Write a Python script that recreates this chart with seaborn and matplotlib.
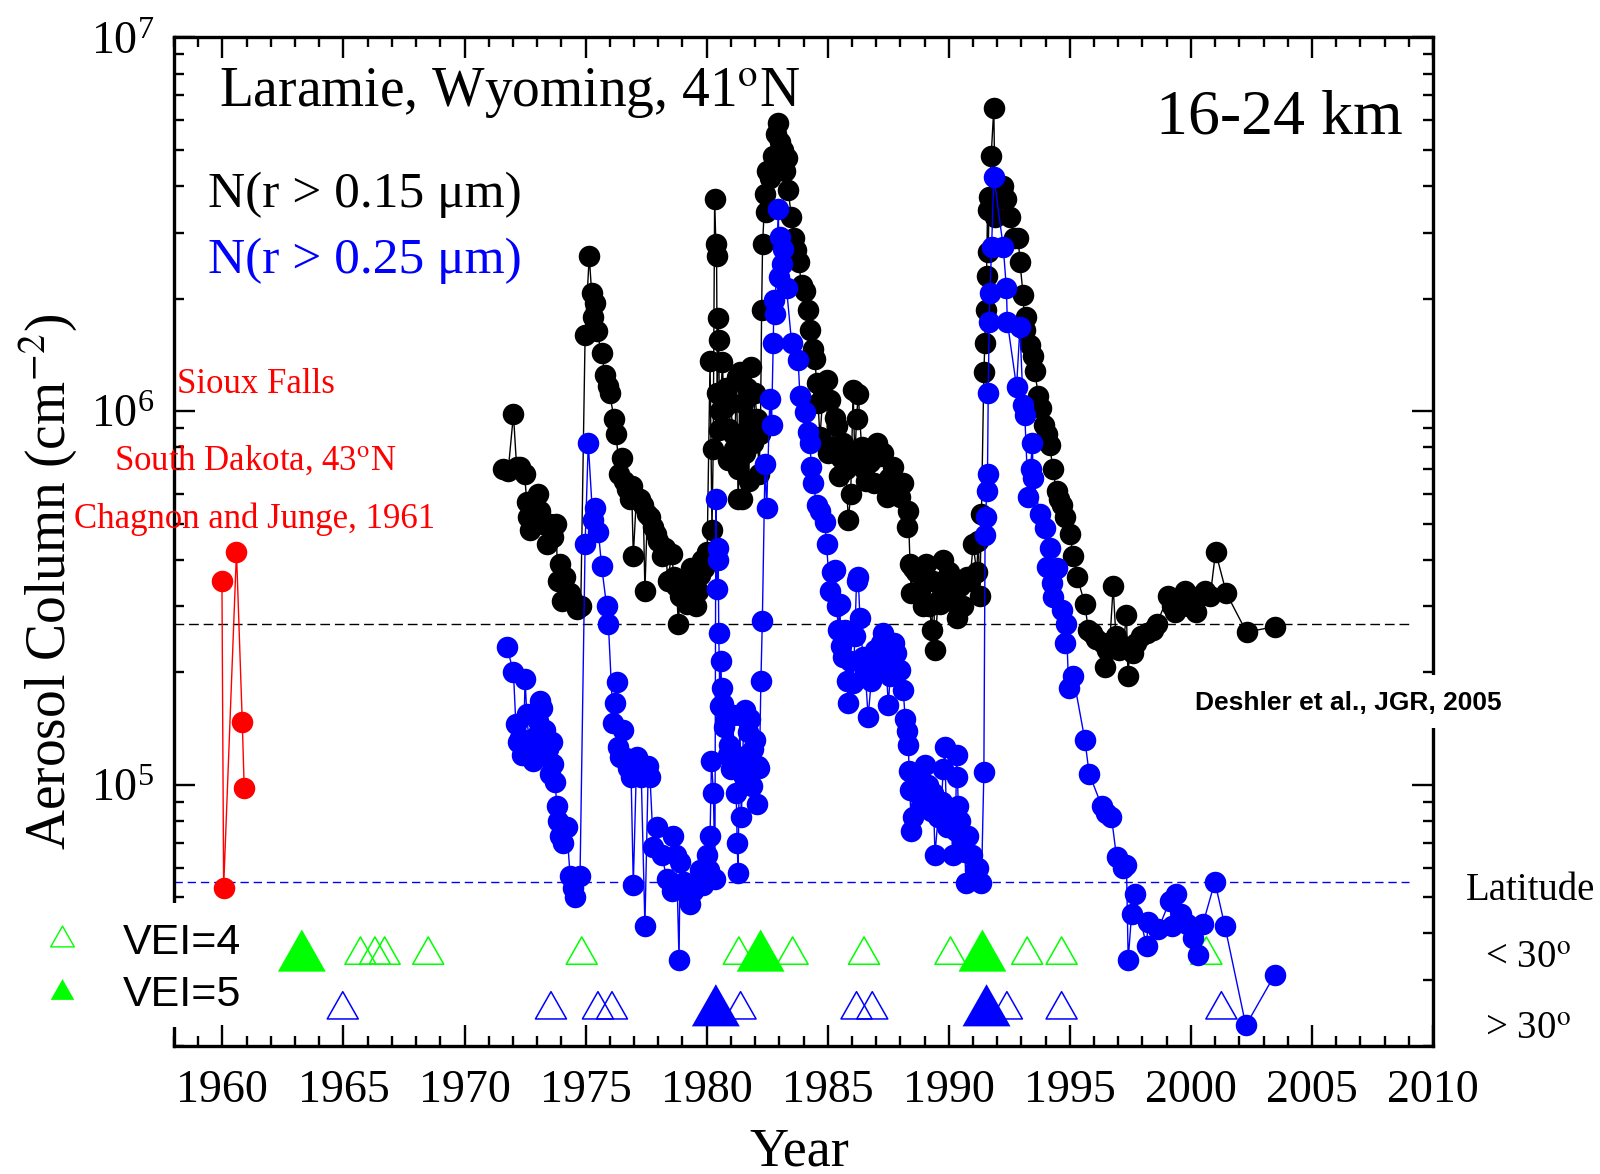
import matplotlib
matplotlib.use("Agg")
import numpy as np
import matplotlib.pyplot as plt
from matplotlib.path import Path
from matplotlib.markers import MarkerStyle
from matplotlib.patches import Rectangle
from matplotlib.lines import Line2D
from matplotlib.ticker import LogLocator, NullFormatter, MultipleLocator
import seaborn as sns

# ---------------------------------------------------------------- data
# Laramie, N(r > 0.15 um), column 16-24 km
black_year = [
    1971.60, 1971.80, 1972.02, 1972.15, 1972.30, 1972.48, 1972.57, 1972.64, 1972.70, 1972.85,
    1973.05, 1973.12, 1973.25, 1973.39, 1973.55, 1973.65, 1973.78, 1973.85, 1973.94, 1974.02,
    1974.15, 1974.36, 1974.50, 1974.63, 1974.80, 1974.98, 1975.15, 1975.25, 1975.32, 1975.39,
    1975.46, 1975.66, 1975.80, 1975.92, 1975.99, 1976.18, 1976.26, 1976.40, 1976.49, 1976.60,
    1976.72, 1976.83, 1976.90, 1976.97, 1977.10, 1977.25, 1977.38, 1977.45, 1977.55, 1977.66,
    1977.80, 1977.90, 1978.00, 1978.15, 1978.30, 1978.40, 1978.55, 1978.65, 1978.75, 1978.83,
    1978.90, 1979.05, 1979.20, 1979.35, 1979.45, 1979.55, 1979.65, 1979.72, 1979.80, 1979.90,
    1980.02, 1980.14, 1980.22, 1980.27, 1980.33, 1980.38, 1980.41, 1980.44, 1980.47, 1980.50,
    1980.53, 1980.56, 1980.65, 1980.72, 1980.81, 1980.89, 1980.94, 1980.98, 1981.10, 1981.15,
    1981.24, 1981.28, 1981.31, 1981.37, 1981.44, 1981.49, 1981.53, 1981.58, 1981.66, 1981.74,
    1981.79, 1981.83, 1981.91, 1981.99, 1982.08, 1982.16, 1982.22, 1982.27, 1982.31, 1982.41,
    1982.46, 1982.50, 1982.62, 1982.75, 1982.88, 1982.96, 1983.03, 1983.10, 1983.17, 1983.23,
    1983.30, 1983.37, 1983.50, 1983.62, 1983.71, 1983.80, 1983.92, 1984.05, 1984.20, 1984.26,
    1984.40, 1984.47, 1984.54, 1984.60, 1984.68, 1984.80, 1984.95, 1985.00, 1985.09, 1985.20,
    1985.30, 1985.37, 1985.45, 1985.55, 1985.64, 1985.75, 1985.85, 1985.95, 1986.05, 1986.12,
    1986.19, 1986.26, 1986.40, 1986.50, 1986.60, 1986.75, 1986.90, 1987.02, 1987.15, 1987.29,
    1987.43, 1987.55, 1987.71, 1987.85, 1988.00, 1988.12, 1988.26, 1988.33, 1988.40, 1988.45,
    1988.53, 1988.65, 1988.80, 1988.92, 1989.00, 1989.08, 1989.20, 1989.30, 1989.36, 1989.43,
    1989.55, 1989.63, 1989.77, 1989.90, 1990.00, 1990.15, 1990.25, 1990.32, 1990.45, 1990.60,
    1990.75, 1990.87, 1991.01, 1991.15, 1991.22, 1991.28, 1991.35, 1991.45, 1991.49, 1991.52,
    1991.56, 1991.60, 1991.63, 1991.67, 1991.75, 1991.86, 1991.92, 1992.05, 1992.18, 1992.25,
    1992.35, 1992.52, 1992.70, 1992.87, 1992.94, 1993.07, 1993.14, 1993.21, 1993.35, 1993.49,
    1993.55, 1993.70, 1993.83, 1993.95, 1994.04, 1994.17, 1994.30, 1994.45, 1994.55, 1994.66,
    1994.80, 1995.00, 1995.14, 1995.30, 1995.62, 1995.76, 1995.90, 1996.10, 1996.38, 1996.45,
    1996.55, 1996.65, 1996.79, 1996.90, 1997.05, 1997.20, 1997.34, 1997.40, 1997.48, 1997.60,
    1997.75, 1997.95, 1998.20, 1998.44, 1998.60, 1999.06, 1999.20, 1999.35, 1999.50, 1999.75,
    1999.90, 2000.10, 2000.23, 2000.37, 2000.57, 2000.80, 2001.02, 2001.47, 2002.30, 2003.46,
]
black_n = [
    7.0e5, 6.9e5, 9.8e5, 7.1e5, 7.1e5, 6.8e5, 5.7e5, 5.2e5, 4.8e5, 5.2e5,
    6.0e5, 5.4e5, 5.0e5, 4.4e5, 5.0e5, 4.6e5, 5.0e5, 3.5e5, 3.9e5, 3.1e5,
    3.6e5, 3.25e5, 3.1e5, 2.95e5, 3.0e5, 1.6e6, 2.6e6, 2.07e6, 1.79e6, 1.94e6,
    1.64e6, 1.43e6, 1.25e6, 1.17e6, 1.12e6, 9.5e5, 8.7e5, 6.8e5, 7.5e5, 6.5e5,
    6.2e5, 5.8e5, 6.3e5, 4.1e5, 5.9e5, 5.8e5, 5.6e5, 3.3e5, 5.3e5, 5.2e5,
    4.9e5, 4.7e5, 4.5e5, 4.1e5, 4.3e5, 3.5e5, 4.15e5, 3.6e5, 3.4e5, 2.7e5,
    3.2e5, 3.5e5, 3.05e5, 3.8e5, 3.4e5, 3.0e5, 3.3e5, 3.65e5, 4.0e5, 3.8e5,
    4.2e5, 1.36e6, 4.8e5, 7.9e5, 3.7e6, 2.8e6, 2.6e6, 1.12e6, 1.77e6, 1.55e6,
    8.9e5, 1.0e6, 1.35e6, 1.02e6, 1.15e6, 7.4e5, 8.95e5, 1.05e6, 8.7e5, 7.9e5,
    1.23e6, 7.0e5, 5.8e5, 1.27e6, 5.8e5, 1.05e6, 8.7e5, 7.7e5, 1.15e6, 6.5e5,
    9.5e5, 1.31e6, 8.2e5, 1.12e6, 9.5e5, 6.8e5, 8.7e5, 1.86e6, 2.8e6, 3.8e6,
    3.4e6, 4.4e6, 4.2e6, 4.8e6, 5.5e6, 5.9e6, 5.25e6, 4.6e6, 5.0e6, 4.4e6,
    4.75e6, 3.9e6, 3.3e6, 2.9e6, 2.7e6, 2.5e6, 2.17e6, 2.1e6, 1.86e6, 1.65e6,
    1.47e6, 1.38e6, 1.19e6, 1.05e6, 8.5e5, 1.1e6, 1.21e6, 7.7e5, 1.07e6, 8.0e5,
    9.6e5, 9.1e5, 6.7e5, 7.5e5, 8.2e5, 7.0e5, 5.1e5, 6.0e5, 1.14e6, 7.4e5,
    9.5e5, 1.11e6, 8.0e5, 7.0e5, 6.5e5, 7.3e5, 6.4e5, 8.2e5, 7.6e5, 7.7e5,
    5.9e5, 6.6e5, 7.1e5, 6.0e5, 5.9e5, 6.4e5, 4.9e5, 5.4e5, 3.9e5, 3.25e5,
    3.8e5, 3.7e5, 3.3e5, 3.0e5, 3.6e5, 3.9e5, 3.0e5, 2.6e5, 3.5e5, 2.3e5,
    3.1e5, 3.05e5, 4.0e5, 3.3e5, 3.7e5, 3.1e5, 3.5e5, 2.8e5, 3.4e5, 3.0e5,
    3.6e5, 3.5e5, 4.4e5, 3.7e5, 4.5e5, 3.2e5, 5.3e5, 1.27e6, 1.52e6, 1.86e6,
    2.3e6, 3.45e6, 2.67e6, 3.74e6, 4.8e6, 6.46e6, 3.3e6, 3.7e6, 3.9e6, 4.0e6,
    3.7e6, 3.3e6, 2.9e6, 2.9e6, 2.5e6, 2.05e6, 1.65e6, 1.79e6, 1.5e6, 1.4e6,
    1.28e6, 1.1e6, 1.02e6, 9.2e5, 8.7e5, 8.1e5, 7.0e5, 6.1e5, 5.8e5, 5.6e5,
    5.2e5, 4.7e5, 4.1e5, 3.6e5, 3.05e5, 2.6e5, 2.55e5, 2.45e5, 2.4e5, 2.07e5,
    2.3e5, 2.4e5, 3.4e5, 2.5e5, 2.3e5, 2.35e5, 2.85e5, 1.95e5, 2.3e5, 2.25e5,
    2.4e5, 2.5e5, 2.55e5, 2.6e5, 2.7e5, 3.2e5, 3.0e5, 2.9e5, 3.1e5, 3.3e5,
    3.0e5, 3.1e5, 2.9e5, 3.2e5, 3.3e5, 3.2e5, 4.2e5, 3.25e5, 2.56e5, 2.65e5,
]

# Laramie, N(r > 0.25 um)
blue_year = [
    1971.76, 1972.02, 1972.12, 1972.22, 1972.29, 1972.36, 1972.43, 1972.50, 1972.57, 1972.66,
    1972.75, 1972.84, 1972.95, 1973.05, 1973.12, 1973.19, 1973.26, 1973.32, 1973.45, 1973.53,
    1973.60, 1973.67, 1973.74, 1973.81, 1973.87, 1973.94, 1974.05, 1974.22, 1974.36, 1974.46,
    1974.56, 1974.77, 1974.98, 1975.11, 1975.30, 1975.39, 1975.53, 1975.66, 1975.87, 1975.94,
    1976.14, 1976.21, 1976.28, 1976.35, 1976.42, 1976.56, 1976.66, 1976.76, 1976.88, 1976.97,
    1977.11, 1977.30, 1977.45, 1977.59, 1977.66, 1977.80, 1977.93, 1978.15, 1978.35, 1978.55,
    1978.62, 1978.75, 1978.86, 1978.90, 1979.05, 1979.17, 1979.30, 1979.45, 1979.60, 1979.72,
    1979.85, 1980.00, 1980.08, 1980.14, 1980.20, 1980.28, 1980.34, 1980.38, 1980.41, 1980.45,
    1980.48, 1980.50, 1980.55, 1980.58, 1980.62, 1980.66, 1980.72, 1980.81, 1980.88, 1980.94,
    1981.00, 1981.07, 1981.15, 1981.22, 1981.26, 1981.30, 1981.37, 1981.43, 1981.49, 1981.52,
    1981.58, 1981.66, 1981.72, 1981.79, 1981.87, 1981.93, 1981.99, 1982.06, 1982.12, 1982.18,
    1982.24, 1982.30, 1982.41, 1982.48, 1982.61, 1982.68, 1982.75, 1982.78, 1982.82, 1982.96,
    1983.00, 1983.03, 1983.10, 1983.16, 1983.30, 1983.51, 1983.78, 1983.85, 1984.06, 1984.20,
    1984.26, 1984.33, 1984.40, 1984.55, 1984.68, 1984.88, 1984.95, 1985.09, 1985.16, 1985.30,
    1985.37, 1985.44, 1985.50, 1985.55, 1985.63, 1985.70, 1985.78, 1985.85, 1985.92, 1986.05,
    1986.12, 1986.19, 1986.26, 1986.33, 1986.45, 1986.55, 1986.67, 1986.80, 1986.95, 1987.10,
    1987.20, 1987.29, 1987.40, 1987.50, 1987.58, 1987.65, 1987.75, 1987.84, 1987.98, 1988.12,
    1988.20, 1988.26, 1988.33, 1988.36, 1988.39, 1988.46, 1988.53, 1988.62, 1988.70, 1988.85,
    1989.00, 1989.15, 1989.25, 1989.36, 1989.43, 1989.56, 1989.70, 1989.77, 1989.84, 1989.91,
    1990.05, 1990.18, 1990.28, 1990.32, 1990.36, 1990.39, 1990.48, 1990.55, 1990.65, 1990.73,
    1990.80, 1990.95, 1991.08, 1991.20, 1991.35, 1991.45, 1991.50, 1991.53, 1991.56, 1991.60,
    1991.63, 1991.67, 1991.70, 1991.77, 1991.86, 1992.25, 1992.38, 1992.42, 1992.80, 1992.94,
    1993.07, 1993.14, 1993.28, 1993.38, 1993.45, 1993.49, 1993.76, 1993.97, 1994.04, 1994.17,
    1994.25, 1994.31, 1994.45, 1994.66, 1994.79, 1994.86, 1994.95, 1995.14, 1995.62, 1995.80,
    1996.31, 1996.51, 1996.72, 1996.93, 1997.20, 1997.34, 1997.41, 1997.55, 1997.68, 1998.17,
    1998.23, 1998.65, 1999.13, 1999.20, 1999.40, 1999.61, 1999.82, 2000.09, 2000.30, 2000.50,
    2000.99, 2001.40, 2002.27, 2003.46,
]
blue_n = [
    2.33e5, 2.0e5, 1.45e5, 1.3e5, 1.33e5, 1.2e5, 1.21e5, 1.92e5, 1.55e5, 1.3e5,
    1.25e5, 1.16e5, 1.35e5, 1.48e5, 1.68e5, 1.6e5, 1.38e5, 1.4e5, 1.25e5, 1.07e5,
    1.3e5, 1.14e5, 1.02e5, 8.8e4, 8.0e4, 7.3e4, 7.0e4, 7.7e4, 5.7e4, 5.3e4,
    5.0e4, 5.7e4, 4.4e5, 8.2e5, 5.1e5, 5.5e5, 4.75e5, 3.85e5, 3.0e5, 2.7e5,
    1.46e5, 1.65e5, 1.88e5, 1.26e5, 1.19e5, 1.4e5, 1.18e5, 1.11e5, 1.05e5, 5.4e4,
    1.19e5, 1.05e5, 4.2e4, 1.12e5, 1.05e5, 6.8e4, 7.7e4, 6.5e4, 5.6e4, 5.2e4,
    7.3e4, 6.5e4, 3.4e4, 6.2e4, 5.5e4, 5.1e4, 4.8e4, 5.2e4, 5.5e4, 5.9e4,
    5.4e4, 6.5e4, 5.9e4, 7.3e4, 1.16e5, 9.5e4, 5.6e4, 5.8e5, 3.35e5, 4.3e5,
    4.0e5, 2.55e5, 1.62e5, 2.15e5, 1.81e5, 1.64e5, 1.43e5, 1.5e5, 1.2e5, 1.28e5,
    1.1e5, 1.54e5, 1.16e5, 9.5e4, 7.0e4, 5.8e4, 1.54e5, 8.2e4, 1.06e5, 1.55e5,
    1.59e5, 1.2e5, 1.38e5, 1.5e5, 9.9e4, 1.25e5, 1.32e5, 8.9e4, 1.12e5, 1.11e5,
    1.89e5, 2.75e5, 7.2e5, 5.5e5, 1.08e6, 9.2e5, 1.52e6, 1.98e6, 1.82e6, 3.48e6,
    2.29e6, 2.92e6, 2.48e6, 2.72e6, 2.13e6, 1.52e6, 1.37e6, 1.1e6, 9.95e5, 8.8e5,
    8.2e5, 7.1e5, 6.4e5, 5.6e5, 5.4e5, 5.05e5, 4.4e5, 3.3e5, 3.7e5, 3.75e5,
    3.0e5, 2.6e5, 3.05e5, 2.35e5, 2.2e5, 2.6e5, 1.9e5, 1.65e5, 2.15e5, 1.87e5,
    2.5e5, 3.5e5, 3.6e5, 2.8e5, 2.2e5, 2.0e5, 1.52e5, 1.9e5, 2.3e5, 2.1e5,
    2.4e5, 2.55e5, 2.2e5, 1.63e5, 1.95e5, 2.1e5, 2.4e5, 2.25e5, 2.03e5, 1.79e5,
    1.5e5, 1.39e5, 1.28e5, 1.09e5, 9.7e4, 7.5e4, 8.2e4, 1.05e5, 9.5e4, 8.8e4,
    1.13e5, 1.0e5, 8.5e4, 9.5e4, 6.5e4, 8.2e4, 9.0e4, 1.1e5, 1.26e5, 7.7e4,
    8.5e4, 6.5e4, 7.5e4, 1.2e5, 1.05e5, 8.8e4, 8.0e4, 7.0e4, 6.6e4, 5.45e4,
    7.3e4, 6.5e4, 5.9e4, 6.0e4, 5.45e4, 1.08e5, 4.65e5, 5.2e5, 6.1e5, 6.8e5,
    1.12e6, 1.73e6, 2.07e6, 2.75e6, 4.24e6, 2.75e6, 2.13e6, 1.73e6, 1.16e6, 1.68e6,
    1.04e6, 9.75e5, 5.9e5, 7.0e5, 8.2e5, 6.6e5, 5.3e5, 4.85e5, 3.83e5, 4.3e5,
    3.46e5, 3.18e5, 3.8e5, 2.93e5, 2.39e5, 2.7e5, 1.81e5, 1.95e5, 1.32e5, 1.07e5,
    8.8e4, 8.4e4, 8.2e4, 6.4e4, 6.0e4, 6.1e4, 3.4e4, 4.5e4, 5.1e4, 3.7e4,
    4.3e4, 4.1e4, 4.9e4, 4.2e4, 5.1e4, 4.5e4, 4.25e4, 3.9e4, 3.5e4, 4.25e4,
    5.5e4, 4.2e4, 2.27e4, 3.1e4,
]

# Sioux Falls, Chagnon and Junge (1961)
red_year = [1959.98, 1960.05, 1960.58, 1960.82, 1960.90]
red_n = [3.5e5, 5.3e4, 4.2e5, 1.47e5, 9.8e4]

# background levels of the two size classes
background_015 = 2.7e5
background_025 = 5.5e4
background_span = [1958.0, 2009.0]

# eruptions: VEI 4 (open) and VEI 5 (filled), by latitude band
tropical_vei4 = [1965.7, 1966.3, 1966.7, 1968.5, 1974.84, 1981.33, 1983.55,
                 1986.5, 1990.07, 1993.24, 1994.66, 2000.64]
tropical_vei5 = [1963.28, 1982.23, 1991.39]
midlat_vei4 = [1964.97, 1973.57, 1975.51, 1976.09, 1981.4, 1986.19, 1986.84,
               1992.4, 1994.66, 2001.26]
midlat_vei5 = [1980.38, 1991.56]
row_tropical = 3.6e4
row_midlat = 2.57e4

year_ticks = list(range(1960, 2011, 5))
decade_ticks = [1e5, 1e6, 1e7]

# ---------------------------------------------------------------- style
sns.set_style("ticks")
plt.rcParams["font.family"] = ["Liberation Serif", "DejaVu Serif"]
plt.rcParams["mathtext.fontset"] = "stix"
plt.rcParams["text.color"] = "black"
plt.rcParams["axes.labelcolor"] = "black"
plt.rcParams["xtick.color"] = "black"
plt.rcParams["ytick.color"] = "black"

GREEN = "#00ff00"
BLUE = "#0000ff"
RED = "#ff0000"

W, H = 1600, 1174
fig = plt.figure(figsize=(16, 11.74), dpi=100)


def fx(px):
    return px / W


def fy(py):
    return 1 - py / H


ax = fig.add_axes([fx(174), fy(1046), fx(1433) - fx(174), fy(37.3) - fy(1046)])
ax.set_yscale("log")

# slightly squat triangle used for the eruption markers
tri = MarkerStyle(Path([(0, 0.88), (-1, -0.88), (1, -0.88), (0, 0.88)], closed=True))

# background reference levels
ax.hlines(background_015, *background_span, colors="black", linestyles=(0, (7, 3.5)),
          linewidth=1.0, zorder=1)
ax.hlines(background_025, *background_span, colors=BLUE, linestyles=(0, (6, 3.5)),
          linewidth=1.0, zorder=1)

# eruption markers
for years, row, col in [(tropical_vei4, row_tropical, GREEN), (midlat_vei4, row_midlat, BLUE)]:
    sns.scatterplot(x=years, y=[row] * len(years), ax=ax, marker=tri, s=500,
                    facecolor="none", edgecolor=col, linewidth=1.1, zorder=2, legend=False)
for years, row, col in [(tropical_vei5, row_tropical, GREEN), (midlat_vei5, row_midlat, BLUE)]:
    sns.scatterplot(x=years, y=[row] * len(years), ax=ax, marker=tri, s=1190,
                    facecolor=col, edgecolor="none", linewidth=0, zorder=2, legend=False)

# balloon series
line_kw = dict(marker="o", markersize=15.5, markeredgewidth=0, linewidth=1.0,
               estimator=None, errorbar=None, sort=True, legend=False)
sns.lineplot(x=black_year, y=black_n, ax=ax, color="black",
             markeredgecolor="black", zorder=3, **line_kw)
sns.lineplot(x=blue_year, y=blue_n, ax=ax, color=BLUE,
             markeredgecolor=BLUE, zorder=4, **line_kw)
sns.lineplot(x=red_year, y=red_n, ax=ax, color=RED,
             markeredgecolor=RED, zorder=4, **line_kw)

# ---------------------------------------------------------------- axes
ax.set_xlim(1958, 2010)
ax.set_ylim(2e4, 1e7)
ax.set_xlabel("")
ax.set_ylabel("")
ax.set_xticks(year_ticks, labels=[str(y) for y in year_ticks])
ax.xaxis.set_minor_locator(MultipleLocator(1))
ax.set_yticks(decade_ticks,
              labels=[r"$\mathregular{10^{%d}}$" % int(np.log10(v)) for v in decade_ticks])
ax.yaxis.set_minor_locator(LogLocator(base=10, subs=np.arange(2, 10), numticks=20))
ax.yaxis.set_minor_formatter(NullFormatter())

for sp in ax.spines.values():
    sp.set_color("black")
    sp.set_linewidth(2.4)
ax.tick_params(axis="both", which="both", direction="in", top=True, right=True,
               color="black", width=1.7, labelcolor="black")
ax.tick_params(which="major", length=15, labelsize=33)
ax.tick_params(which="minor", length=7.5)
ax.tick_params(axis="x", which="major", pad=17)
ax.tick_params(axis="y", which="major", pad=14)

# gaps in the frame behind the side annotations
fig.add_artist(Rectangle((fx(158), fy(1027)), fx(190) - fx(158), fy(903) - fy(1027),
                         transform=fig.transFigure, facecolor="white",
                         edgecolor="none", zorder=3))
fig.add_artist(Rectangle((fx(1416), fy(728)), fx(1450) - fx(1416), fy(675) - fy(728),
                         transform=fig.transFigure, facecolor="white",
                         edgecolor="none", zorder=3))

# ---------------------------------------------------------------- text
T = dict(transform=fig.transFigure, zorder=5, color="black")
fig.text(fx(219), fy(107), r"Laramie, Wyoming, 41$^{\rm o}$N", fontsize=40,
         ha="left", va="baseline", **T)
fig.text(fx(1403), fy(134), "16-24 km", fontsize=46, ha="right", va="baseline", **T)
fig.text(fx(208), fy(207), "N(r > 0.15 \u03bcm)", fontsize=37, ha="left",
         va="baseline", **T)

T2 = dict(transform=fig.transFigure, zorder=5)
fig.text(fx(208), fy(273), "N(r > 0.25 \u03bcm)", fontsize=37, ha="left",
         va="baseline", color=BLUE, **T2)

fig.text(fx(256), fy(393), "Sioux Falls", fontsize=25, ha="center", va="baseline",
         color=RED, **T2)
fig.text(fx(255), fy(470), r"South Dakota, 43$^{\rm o}$N", fontsize=25, ha="center",
         va="baseline", color=RED, **T2)
fig.text(fx(255), fy(528), "Chagnon and Junge, 1961", fontsize=25, ha="center",
         va="baseline", color=RED, **T2)

fig.text(fx(1195), fy(710), "Deshler et al., JGR, 2005", fontsize=19,
         fontweight="bold", family=["Liberation Sans", "DejaVu Sans"],
         ha="left", va="baseline", **T)

fig.text(fx(1466), fy(900), "Latitude", fontsize=28, ha="left", va="baseline", **T)
fig.text(fx(1485), fy(968), r"< 30$^{\rm o}$", fontsize=28, ha="left", va="baseline", **T)
fig.text(fx(1485), fy(1039), r"> 30$^{\rm o}$", fontsize=28, ha="left", va="baseline", **T)

# VEI key
fig.add_artist(Line2D([fx(61.5)], [fy(935.7)], transform=fig.transFigure, marker=tri,
                      markersize=17, markerfacecolor="none", markeredgecolor=GREEN,
                      markeredgewidth=1.0, linestyle="none", zorder=5))
fig.add_artist(Line2D([fx(61.5)], [fy(989)], transform=fig.transFigure, marker=tri,
                      markersize=17, markerfacecolor=GREEN, markeredgewidth=0,
                      linestyle="none", zorder=5))
fig.text(fx(123), fy(953.5), "VEI=4", fontsize=31, family=["Liberation Sans", "DejaVu Sans"],
         ha="left", va="baseline", **T)
fig.text(fx(123), fy(1006.5), "VEI=5", fontsize=31, family=["Liberation Sans", "DejaVu Sans"],
         ha="left", va="baseline", **T)

# axis titles
fig.text(fx(799), fy(1165), "Year", fontsize=39, ha="center", va="baseline", **T)
fig.text(fx(48), fy(582), r"Aerosol Column (cm$^{-2}$)", fontsize=40, rotation=90,
         ha="center", va="center", **T)

fig.savefig("out.png", dpi=100)
